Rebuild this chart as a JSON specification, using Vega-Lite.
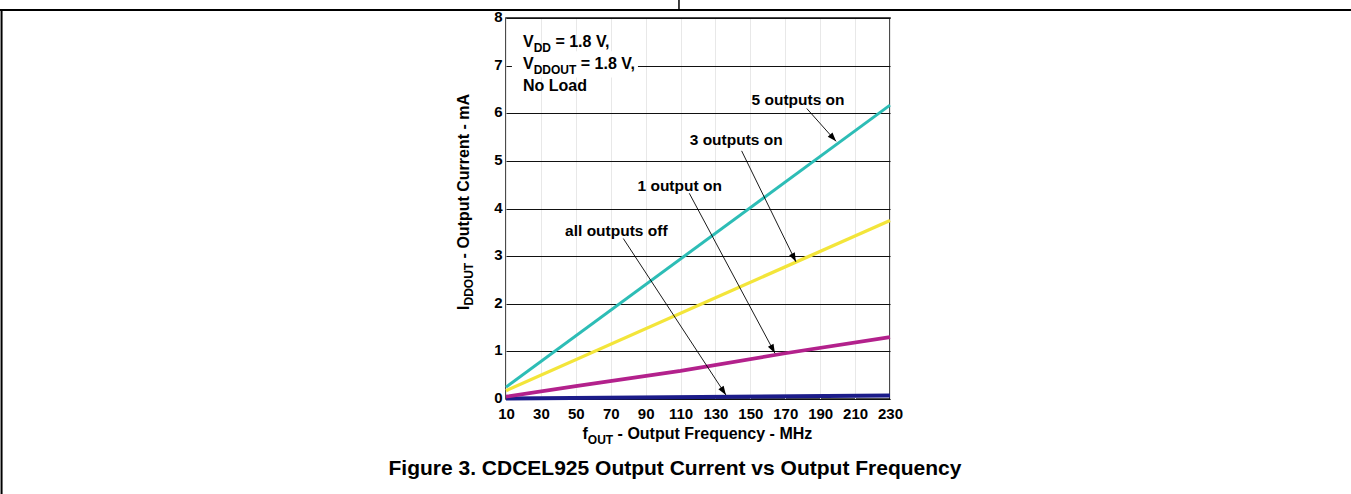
{
  "$schema": "https://vega.github.io/schema/vega-lite/v6.json",
  "width": 384,
  "height": 381,
  "autosize": {"type": "none"},
  "padding": {"left": 506, "top": 18, "right": 461, "bottom": 95},
  "background": "white",
  "datasets": {
    "curves": [
      {"series": "all outputs off", "f": 10, "i": 0.01},
      {"series": "all outputs off", "f": 230, "i": 0.075},
      {"series": "1 output on", "f": 10, "i": 0.05},
      {"series": "1 output on", "f": 50, "i": 0.27},
      {"series": "1 output on", "f": 110, "i": 0.59},
      {"series": "1 output on", "f": 170, "i": 0.96},
      {"series": "1 output on", "f": 230, "i": 1.3},
      {"series": "3 outputs on", "f": 10, "i": 0.175},
      {"series": "3 outputs on", "f": 230, "i": 3.75},
      {"series": "5 outputs on", "f": 10, "i": 0.25},
      {"series": "5 outputs on", "f": 230, "i": 6.17}
    ],
    "notes": [
      {"label": "5 outputs on", "f": 177.3, "i": 6.28, "sf": 182.3, "si": 6.1, "tf": 199.1, "ti": 5.41},
      {"label": "3 outputs on", "f": 141.9, "i": 5.44, "sf": 145.0, "si": 5.21, "tf": 176.1, "ti": 2.88},
      {"label": "1 output on", "f": 109.5, "i": 4.48, "sf": 115.0, "si": 4.32, "tf": 164.1, "ti": 0.96},
      {"label": "all outputs off", "f": 73.2, "i": 3.52, "sf": 77.2, "si": 3.37, "tf": 136.0, "ti": 0.084}
    ],
    "texts": [
      {"key": "v1", "t": "V", "f": 19.74, "i": 7.381},
      {"key": "s1", "t": "DD", "f": 19.74, "i": 7.381},
      {"key": "r1", "t": "= 1.8 V,", "f": 19.74, "i": 7.381},
      {"key": "v2", "t": "V", "f": 19.74, "i": 6.919},
      {"key": "s2", "t": "DDOUT", "f": 19.74, "i": 6.919},
      {"key": "r2", "t": "= 1.8 V,", "f": 19.74, "i": 6.919},
      {"key": "v3", "t": "No Load", "f": 19.74, "i": 6.457},
      {"key": "xa", "t": "f", "f": 53.83, "i": -0.84},
      {"key": "xs", "t": "OUT", "f": 53.83, "i": -0.84},
      {"key": "xr", "t": "- Output Frequency - MHz", "f": 53.83, "i": -0.84},
      {"key": "ya", "t": "I", "f": -11.2, "i": 1.869},
      {"key": "ys", "t": "DDOUT", "f": -11.2, "i": 1.869},
      {"key": "yr", "t": "- Output Current - mA", "f": -11.2, "i": 1.869},
      {"key": "cap", "t": "Figure 3. CDCEL925 Output Current vs Output Frequency", "f": 106.8, "i": -1.47}
    ],
    "frame": [
      {"key": "top", "f": -279.9, "i": 8.17, "f2": 494.1, "i2": 8.17},
      {"key": "left", "f": -279.0, "i": 8.17, "f2": -279.0, "i2": -1.995},
      {"key": "div", "f": 109.1, "i": 8.378, "f2": 109.1, "i2": 8.17}
    ],
    "mask": [
      {"f": 13.4, "i": 6.75, "f2": 85.6, "i2": 7.3}
    ]
  },
  "encoding": {
    "x": {"field": "f", "type": "quantitative",
          "scale": {"domain": [10, 230], "nice": false, "zero": false},
          "axis": {"values": [10, 30, 50, 70, 90, 110, 130, 150, 170, 190, 210, 230], "title": null, "grid": true, "gridColor": "#e8e8e8", "gridWidth": 1,
                   "domain": false, "ticks": false, "labelFont": "Liberation Sans", "labelFontWeight": "bold", "labelFontSize": 15, "labelColor": "black",
                   "labelPadding": 7, "labelFlush": false, "labelOverlap": false, "labelBound": false}},
    "y": {"field": "i", "type": "quantitative",
          "scale": {"domain": [0, 8], "nice": false, "zero": false},
          "axis": {"values": [0, 1, 2, 3, 4, 5, 6, 7, 8], "title": null, "grid": true, "gridColor": "#111111", "gridWidth": 1.2,
                   "domain": false, "ticks": false, "labelFont": "Liberation Sans", "labelFontWeight": "bold", "labelFontSize": 15, "labelColor": "black",
                   "labelPadding": 4, "labelOffset": -1.5, "labelFlush": false, "labelOverlap": false, "labelBound": false}}
  },
  "layer": [
    {
      "data": {"name": "curves"},
      "mark": {"type": "line", "strokeCap": "butt"},
      "encoding": {
        "color": {"field": "series", "type": "nominal", "legend": null,
                  "scale": {"domain": ["all outputs off", "1 output on", "3 outputs on", "5 outputs on"], "range": ["#1c1c8a", "#b3218c", "#f3e53a", "#2dbdb6"]}},
        "strokeWidth": {"field": "series", "type": "nominal", "legend": null,
                  "scale": {"domain": ["all outputs off", "1 output on", "3 outputs on", "5 outputs on"], "range": [4, 3, 3, 3]}}
      }
    },
    {
      "data": {"name": "mask"},
      "mark": {"type": "rect", "color": "white"},
      "encoding": {"x2": {"field": "f2"}, "y2": {"field": "i2"}}
    },
    {
      "data": {"name": "notes"},
      "mark": {"type": "rule", "color": "black", "strokeWidth": 0.9},
      "encoding": {
        "x": {"field": "sf", "type": "quantitative"},
        "y": {"field": "si", "type": "quantitative"},
        "x2": {"field": "tf"},
        "y2": {"field": "ti"}
      }
    },
    {
      "data": {"name": "notes"},
      "transform": [{"filter": "datum.label == '5 outputs on'"}],
      "mark": {"type": "point", "shape": "M0,0L-0.7,2L0.7,2Z", "filled": true, "color": "black", "opacity": 1, "size": 81, "strokeWidth": 0, "angle": 138.6},
      "encoding": {"x": {"field": "tf", "type": "quantitative"}, "y": {"field": "ti", "type": "quantitative"}}
    },
    {
      "data": {"name": "notes"},
      "transform": [{"filter": "datum.label == '3 outputs on'"}],
      "mark": {"type": "point", "shape": "M0,0L-0.7,2L0.7,2Z", "filled": true, "color": "black", "opacity": 1, "size": 81, "strokeWidth": 0, "angle": 153.9},
      "encoding": {"x": {"field": "tf", "type": "quantitative"}, "y": {"field": "ti", "type": "quantitative"}}
    },
    {
      "data": {"name": "notes"},
      "transform": [{"filter": "datum.label == '1 output on'"}],
      "mark": {"type": "point", "shape": "M0,0L-0.7,2L0.7,2Z", "filled": true, "color": "black", "opacity": 1, "size": 81, "strokeWidth": 0, "angle": 151.8},
      "encoding": {"x": {"field": "tf", "type": "quantitative"}, "y": {"field": "ti", "type": "quantitative"}}
    },
    {
      "data": {"name": "notes"},
      "transform": [{"filter": "datum.label == 'all outputs off'"}],
      "mark": {"type": "point", "shape": "M0,0L-0.7,2L0.7,2Z", "filled": true, "color": "black", "opacity": 1, "size": 81, "strokeWidth": 0, "angle": 146.8},
      "encoding": {"x": {"field": "tf", "type": "quantitative"}, "y": {"field": "ti", "type": "quantitative"}}
    },
    {
      "data": {"name": "notes"},
      "mark": {"type": "text", "fontSize": 15.5, "align": "center", "baseline": "middle"},
      "encoding": {"text": {"field": "label"}}
    },
    {
      "data": {"name": "texts"},
      "transform": [{"filter": "datum.key == 'v1' || datum.key == 'v2' || datum.key == 'v3' || datum.key == 'xa'"}],
      "mark": {"type": "text", "fontSize": 16, "align": "left", "baseline": "alphabetic"},
      "encoding": {"text": {"field": "t"}}
    },
    {
      "data": {"name": "texts"},
      "transform": [{"filter": "datum.key == 's1' || datum.key == 's2'"}],
      "mark": {"type": "text", "fontSize": 12, "align": "left", "baseline": "alphabetic", "dx": 10.7, "dy": 4.5},
      "encoding": {"text": {"field": "t"}}
    },
    {
      "data": {"name": "texts"},
      "transform": [{"filter": "datum.key == 'r1'"}],
      "mark": {"type": "text", "fontSize": 16, "align": "left", "baseline": "alphabetic", "dx": 32.4},
      "encoding": {"text": {"field": "t"}}
    },
    {
      "data": {"name": "texts"},
      "transform": [{"filter": "datum.key == 'r2'"}],
      "mark": {"type": "text", "fontSize": 16, "align": "left", "baseline": "alphabetic", "dx": 57.8},
      "encoding": {"text": {"field": "t"}}
    },
    {
      "data": {"name": "texts"},
      "transform": [{"filter": "datum.key == 'xs'"}],
      "mark": {"type": "text", "fontSize": 12, "align": "left", "baseline": "alphabetic", "dx": 5.33, "dy": 5},
      "encoding": {"text": {"field": "t"}}
    },
    {
      "data": {"name": "texts"},
      "transform": [{"filter": "datum.key == 'xr'"}],
      "mark": {"type": "text", "fontSize": 16, "align": "left", "baseline": "alphabetic", "dx": 35.1},
      "encoding": {"text": {"field": "t"}}
    },
    {
      "data": {"name": "texts"},
      "transform": [{"filter": "datum.key == 'ya'"}],
      "mark": {"type": "text", "fontSize": 16, "align": "left", "baseline": "alphabetic", "angle": 270},
      "encoding": {"text": {"field": "t"}}
    },
    {
      "data": {"name": "texts"},
      "transform": [{"filter": "datum.key == 'ys'"}],
      "mark": {"type": "text", "fontSize": 12, "align": "left", "baseline": "alphabetic", "angle": 270, "dx": 4.45, "dy": 4.5},
      "encoding": {"text": {"field": "t"}}
    },
    {
      "data": {"name": "texts"},
      "transform": [{"filter": "datum.key == 'yr'"}],
      "mark": {"type": "text", "fontSize": 16, "align": "left", "baseline": "alphabetic", "angle": 270, "dx": 51.6},
      "encoding": {"text": {"field": "t"}}
    },
    {
      "data": {"name": "texts"},
      "transform": [{"filter": "datum.key == 'cap'"}],
      "mark": {"type": "text", "fontSize": 21, "align": "center", "baseline": "middle"},
      "encoding": {"text": {"field": "t"}}
    },
    {
      "data": {"name": "frame"},
      "transform": [{"filter": "datum.key != 'div'"}],
      "mark": {"type": "rule", "color": "black", "strokeWidth": 2},
      "encoding": {"x2": {"field": "f2"}, "y2": {"field": "i2"}}
    },
    {
      "data": {"name": "frame"},
      "transform": [{"filter": "datum.key == 'div'"}],
      "mark": {"type": "rule", "color": "black", "strokeWidth": 1.5},
      "encoding": {"x2": {"field": "f2"}, "y2": {"field": "i2"}}
    }
  ],
  "config": {
    "view": {"stroke": "#111111", "strokeWidth": 1.5},
    "text": {"font": "Liberation Sans", "fontWeight": "bold", "color": "black"}
  }
}
